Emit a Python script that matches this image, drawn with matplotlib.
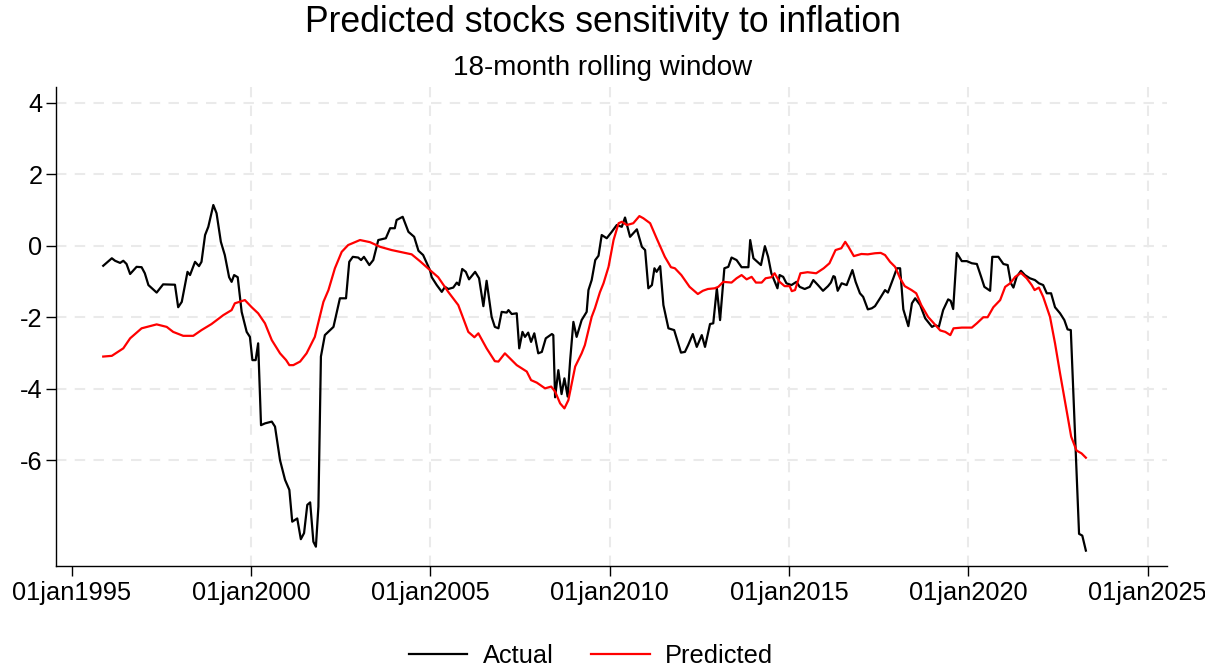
import numpy as np
import matplotlib
matplotlib.use("Agg")
import matplotlib.pyplot as plt

plt.rcParams['font.family'] = ['Liberation Sans', 'DejaVu Sans']
plt.rcParams['axes.unicode_minus'] = False

# Actual sensitivity (decimal year, value)
actual_year = [1995.88, 1996.12, 1996.21, 1996.35, 1996.44, 1996.53, 1996.63, 1996.81, 1996.95, 1997.04,
               1997.14, 1997.37, 1997.55, 1997.88, 1997.97, 1998.07, 1998.23, 1998.30, 1998.44, 1998.55,
               1998.62, 1998.72, 1998.81, 1998.95, 1999.04, 1999.16, 1999.27, 1999.39, 1999.46, 1999.53,
               1999.63, 1999.74, 1999.88, 1999.97, 2000.04, 2000.13, 2000.20, 2000.28, 2000.39, 2000.58,
               2000.67, 2000.81, 2000.95, 2001.07, 2001.15, 2001.29, 2001.39, 2001.48, 2001.57, 2001.65,
               2001.74, 2001.81, 2001.88, 2001.95, 2002.06, 2002.30, 2002.48, 2002.65, 2002.74, 2002.84,
               2002.99, 2003.07, 2003.15, 2003.30, 2003.41, 2003.55, 2003.76, 2003.88, 2004.01, 2004.06,
               2004.23, 2004.39, 2004.55, 2004.67, 2004.80, 2004.99, 2005.04, 2005.18, 2005.32, 2005.41,
               2005.50, 2005.64, 2005.74, 2005.80, 2005.89, 2005.99, 2006.08, 2006.25, 2006.36, 2006.48,
               2006.57, 2006.71, 2006.80, 2006.90, 2006.99, 2007.13, 2007.18, 2007.27, 2007.41, 2007.48,
               2007.57, 2007.64, 2007.73, 2007.81, 2007.90, 2008.01, 2008.11, 2008.22, 2008.39, 2008.43,
               2008.48, 2008.57, 2008.66, 2008.74, 2008.83, 2008.90, 2008.99, 2009.08, 2009.22, 2009.36,
               2009.41, 2009.50, 2009.60, 2009.69, 2009.78, 2009.92, 2010.06, 2010.20, 2010.34, 2010.43,
               2010.57, 2010.76, 2010.90, 2010.99, 2011.08, 2011.18, 2011.25, 2011.31, 2011.41, 2011.50,
               2011.64, 2011.80, 2011.99, 2012.10, 2012.19, 2012.32, 2012.43, 2012.57, 2012.66, 2012.80,
               2012.89, 2012.99, 2013.08, 2013.20, 2013.31, 2013.40, 2013.54, 2013.68, 2013.87, 2013.92,
               2014.01, 2014.22, 2014.33, 2014.42, 2014.51, 2014.68, 2014.74, 2014.84, 2014.93, 2015.07,
               2015.21, 2015.30, 2015.44, 2015.58, 2015.68, 2015.81, 2015.95, 2016.09, 2016.17, 2016.24,
               2016.28, 2016.36, 2016.47, 2016.61, 2016.77, 2016.86, 2016.98, 2017.07, 2017.20, 2017.31,
               2017.40, 2017.54, 2017.68, 2017.76, 2017.91, 2018.01, 2018.10, 2018.19, 2018.33, 2018.43,
               2018.52, 2018.66, 2018.80, 2018.99, 2019.08, 2019.18, 2019.30, 2019.44, 2019.51, 2019.58,
               2019.68, 2019.82, 2019.96, 2020.10, 2020.24, 2020.36, 2020.45, 2020.61, 2020.67, 2020.84,
               2020.98, 2021.10, 2021.19, 2021.26, 2021.35, 2021.47, 2021.58, 2021.72, 2021.86, 2021.97,
               2022.09, 2022.19, 2022.31, 2022.42, 2022.56, 2022.68, 2022.77, 2022.86, 2023.09, 2023.18,
               2023.28]
actual_val = [-0.56, -0.35, -0.42, -0.48, -0.42, -0.51, -0.79, -0.59, -0.60, -0.77,
              -1.10, -1.31, -1.08, -1.09, -1.72, -1.57, -0.73, -0.82, -0.45, -0.57,
              -0.45, 0.30, 0.53, 1.14, 0.91, 0.11, -0.26, -0.88, -1.01, -0.82,
              -0.88, -1.85, -2.41, -2.55, -3.20, -3.20, -2.73, -5.02, -4.97, -4.92,
              -5.06, -6.00, -6.55, -6.83, -7.72, -7.63, -8.21, -8.04, -7.25, -7.18,
              -8.28, -8.42, -7.30, -3.10, -2.50, -2.27, -1.47, -1.47, -0.45, -0.31,
              -0.33, -0.40, -0.31, -0.54, -0.40, 0.16, 0.21, 0.49, 0.49, 0.72,
              0.81, 0.39, 0.25, -0.14, -0.26, -0.68, -0.88, -1.10, -1.29, -1.15,
              -1.21, -1.17, -1.03, -1.10, -0.65, -0.73, -0.94, -0.73, -0.91, -1.69,
              -0.98, -1.99, -2.27, -2.31, -1.85, -1.87, -1.80, -1.91, -1.89, -2.87,
              -2.41, -2.55, -2.43, -2.69, -2.45, -3.01, -2.97, -2.59, -2.47, -2.50,
              -4.24, -3.48, -4.15, -3.71, -4.22, -3.20, -2.13, -2.55, -2.08, -1.85,
              -1.24, -0.96, -0.40, -0.28, 0.30, 0.21, 0.39, 0.58, 0.53, 0.79,
              0.25, 0.46, -0.03, -0.12, -1.19, -1.10, -0.63, -0.73, -0.57, -1.66,
              -2.31, -2.36, -2.99, -2.97, -2.78, -2.47, -2.83, -2.50, -2.83, -2.19,
              -2.17, -1.19, -2.08, -0.63, -0.59, -0.33, -0.40, -0.60, -0.60, 0.16,
              -0.35, -0.54, -0.01, -0.31, -0.77, -1.19, -0.82, -0.87, -1.05, -1.10,
              -1.01, -1.15, -1.21, -1.15, -0.96, -1.10, -1.26, -1.13, -1.03, -0.85,
              -0.87, -1.26, -1.05, -1.10, -0.68, -1.01, -1.33, -1.43, -1.78, -1.75,
              -1.69, -1.47, -1.24, -1.31, -0.91, -0.63, -0.63, -1.78, -2.25, -1.61,
              -1.47, -1.66, -2.03, -2.27, -2.22, -2.27, -1.80, -1.50, -1.54, -1.77,
              -0.20, -0.43, -0.43, -0.49, -0.51, -0.87, -1.15, -1.26, -0.31, -0.31,
              -0.51, -0.54, -1.05, -1.17, -0.87, -0.70, -0.82, -0.91, -0.96, -1.05,
              -1.10, -1.33, -1.33, -1.72, -1.89, -2.08, -2.34, -2.36, -8.06, -8.11,
              -8.53]

# Predicted sensitivity (decimal year, value)
pred_year = [1995.88, 1996.12, 1996.44, 1996.63, 1996.95, 1997.37, 1997.65, 1997.83, 1998.11, 1998.39,
             1998.62, 1998.90, 1999.23, 1999.46, 1999.55, 1999.83, 2000.02, 2000.20, 2000.39, 2000.58,
             2000.81, 2000.98, 2001.07, 2001.18, 2001.37, 2001.55, 2001.78, 2002.02, 2002.16, 2002.34,
             2002.53, 2002.71, 2003.04, 2003.32, 2003.60, 2003.92, 2004.25, 2004.48, 2004.71, 2004.99,
             2005.22, 2005.50, 2005.78, 2006.06, 2006.23, 2006.34, 2006.57, 2006.80, 2006.90, 2007.08,
             2007.27, 2007.41, 2007.69, 2007.81, 2007.97, 2008.20, 2008.37, 2008.48, 2008.62, 2008.74,
             2008.85, 2009.04, 2009.22, 2009.31, 2009.50, 2009.59, 2009.73, 2009.83, 2009.97, 2010.11,
             2010.25, 2010.34, 2010.48, 2010.66, 2010.83, 2010.94, 2011.13, 2011.31, 2011.54, 2011.71,
             2011.82, 2012.00, 2012.23, 2012.46, 2012.60, 2012.74, 2012.93, 2013.03, 2013.17, 2013.40,
             2013.54, 2013.68, 2013.82, 2013.96, 2014.08, 2014.24, 2014.35, 2014.51, 2014.60, 2014.74,
             2014.88, 2015.02, 2015.08, 2015.17, 2015.32, 2015.52, 2015.76, 2015.97, 2016.13, 2016.30,
             2016.46, 2016.57, 2016.66, 2016.81, 2017.02, 2017.20, 2017.40, 2017.56, 2017.68, 2017.82,
             2017.96, 2018.10, 2018.23, 2018.42, 2018.55, 2018.69, 2018.88, 2019.07, 2019.22, 2019.36,
             2019.50, 2019.59, 2019.82, 2020.10, 2020.24, 2020.42, 2020.54, 2020.70, 2020.89, 2021.03,
             2021.17, 2021.31, 2021.47, 2021.63, 2021.77, 2021.85, 2021.97, 2022.09, 2022.28, 2022.42,
             2022.56, 2022.70, 2022.79, 2022.87, 2023.02, 2023.16, 2023.28]
pred_val = [-3.10, -3.08, -2.87, -2.59, -2.31, -2.20, -2.27, -2.41, -2.52, -2.52,
            -2.36, -2.19, -1.94, -1.80, -1.61, -1.52, -1.72, -1.89, -2.17, -2.64,
            -3.01, -3.20, -3.34, -3.34, -3.24, -3.01, -2.55, -1.57, -1.24, -0.63,
            -0.17, 0.02, 0.16, 0.10, -0.03, -0.12, -0.19, -0.24, -0.43, -0.68,
            -0.88, -1.29, -1.66, -2.41, -2.56, -2.45, -2.87, -3.23, -3.24, -3.01,
            -3.20, -3.34, -3.52, -3.76, -3.83, -3.99, -3.94, -4.08, -4.41, -4.55,
            -4.32, -3.38, -3.01, -2.78, -1.99, -1.75, -1.30, -1.05, -0.59, 0.16,
            0.63, 0.67, 0.58, 0.63, 0.83, 0.77, 0.63, 0.21, -0.31, -0.60,
            -0.63, -0.82, -1.15, -1.35, -1.26, -1.21, -1.19, -1.15, -1.01, -1.03,
            -0.91, -0.82, -0.94, -0.87, -1.03, -1.03, -0.91, -0.88, -0.77, -1.01,
            -1.13, -1.13, -1.27, -1.24, -0.77, -0.74, -0.77, -0.63, -0.49, -0.12,
            -0.07, 0.11, -0.03, -0.29, -0.23, -0.24, -0.21, -0.20, -0.26, -0.45,
            -0.59, -0.91, -1.13, -1.24, -1.33, -1.66, -1.99, -2.20, -2.37, -2.41,
            -2.50, -2.31, -2.29, -2.29, -2.17, -2.00, -2.00, -1.72, -1.52, -1.15,
            -1.05, -0.87, -0.76, -0.91, -1.10, -1.24, -1.17, -1.43, -1.99, -2.73,
            -3.57, -4.36, -4.88, -5.34, -5.73, -5.81, -5.93]

x_ticks = [1995, 2000, 2005, 2010, 2015, 2020, 2025]
x_labels = ['01jan%d' % y for y in x_ticks]
y_ticks = [4, 2, 0, -2, -4, -6]

fig = plt.figure(figsize=(12.05, 6.68), dpi=100)
ax = fig.add_axes([0.0462, 0.1527, 0.9222, 0.7175])

# dashed light grid (no vertical line at the first x tick)
for y in y_ticks:
    ax.axhline(y, color='#eaeaea', lw=1.5, dashes=(5, 4), zorder=0)
for x in x_ticks[1:]:
    ax.axvline(x, color='#eaeaea', lw=1.5, dashes=(5, 4), zorder=0)

ax.plot(actual_year, actual_val, color='black', lw=1.6, label='Actual')
ax.plot(pred_year, pred_val, color='red', lw=1.6, label='Predicted')

ax.set_xlim(1994.554, 2025.54)
ax.set_ylim(-8.96, 4.45)
ax.set_xticks(x_ticks)
ax.set_xticklabels(x_labels)
ax.set_yticks(y_ticks)
ax.set_yticklabels([str(v) for v in y_ticks])
ax.tick_params(axis='both', labelsize=18.3, length=7.5, width=1, color='black', direction='out')
ax.tick_params(axis='x', pad=3)
ax.tick_params(axis='y', pad=2)
for s in ['top', 'right']:
    ax.spines[s].set_visible(False)
for s in ['left', 'bottom']:
    ax.spines[s].set_linewidth(1)

fig.text(0.5, 0.967, 'Predicted stocks sensitivity to inflation', ha='center', va='center', fontsize=25.6)
fig.text(0.5, 0.898, '18-month rolling window', ha='center', va='center', fontsize=20)

fig.legend(loc='center', bbox_to_anchor=(0.4905, 0.018), ncol=2, frameon=False, fontsize=18.3,
           handlelength=2.3, handletextpad=0.6, columnspacing=1.5)

fig.savefig('out.png', dpi=100)
